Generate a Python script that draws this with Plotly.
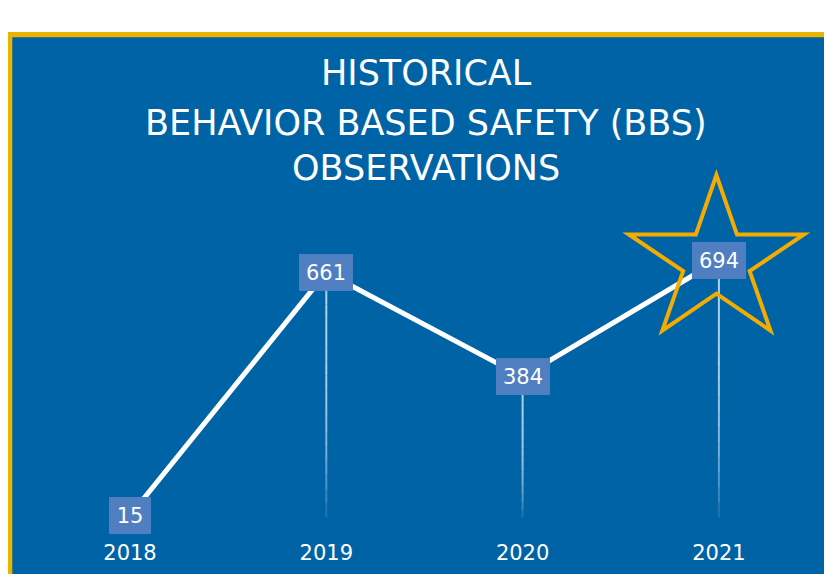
import math
import plotly.graph_objects as go

# ---- data ----
years = [2018, 2019, 2020, 2021]
year_labels = ["2018", "2019", "2020", "2021"]
observations = [15, 661, 384, 694]
title_lines = ["HISTORICAL", "BEHAVIOR BASED SAFETY (BBS)", "OBSERVATIONS"]

# ---- style ----
W, H = 832, 574
MB = 44
PLOT_H = H - MB
OFF = 8  # page body margin offset
BLUE = "#0063A6"
BOX = "#4F7EC1"
GOLD = "#E9B500"
STAR = "#F4AC00"
FONT = "DejaVu Sans"

x_range = [2017.3785, 2021.6169]
y_range = [-44.7, 1363.7]


def py(px):
    """screen pixel (from top) -> paper y"""
    return (PLOT_H - (px - OFF)) / PLOT_H


def pxx(px):
    return (px - OFF) / W


fig = go.Figure()

# drop lines (fading)
unit = PLOT_H / (y_range[1] - y_range[0])
for yr, v in zip(years, observations):
    if v < 100:
        continue
    top = v - 18 / unit
    bot = 15 - 2 / unit
    n = 16
    for i in range(n):
        a = top + (bot - top) * i / n
        b = top + (bot - top) * (i + 1) / n
        op = 0.9 * (1 - (i / n) ** 3)
        fig.add_trace(go.Scatter(x=[yr, yr], y=[a, b], mode="lines",
                                 line=dict(color=f"rgba(195,218,242,{op:.3f})", width=2),
                                 hoverinfo="skip", showlegend=False))

# main line
fig.add_trace(go.Scatter(x=years, y=observations, mode="lines",
                         line=dict(color="white", width=5),
                         hoverinfo="skip", showlegend=False))

# value boxes
for yr, v in zip(years, observations):
    w = 30 if len(str(v)) < 3 else 42
    fig.add_annotation(x=yr, y=v, text=str(v), showarrow=False,
                       bgcolor=BOX, borderpad=5, borderwidth=1, bordercolor=BOX,
                       width=w, height=25,
                       font=dict(family=FONT, size=21, color="white"))

# title
for line, cy in zip(title_lines, [72.5, 122.5, 167.5]):
    fig.add_annotation(x=pxx(426), y=py(cy), xref="paper", yref="paper",
                       text=line, showarrow=False, xanchor="center", yanchor="middle",
                       font=dict(family=FONT, size=35, color="white"))

# star around the last point
Rx, Ry, rr = 92, 86, 0.38
pts = []
for k in range(10):
    ang = math.pi / 2 + k * math.pi / 5
    r = 1 if k % 2 == 0 else rr
    pts.append((Rx * r * math.cos(ang) - 2.5, Ry * r * math.sin(ang) - 1))
path = "M " + " L ".join(f"{x:.2f},{y:.2f}" for x, y in pts) + " Z"

shapes = [
    dict(type="rect", xref="paper", yref="paper", x0=pxx(7), x1=pxx(W + 20),
         y0=py(H + 20), y1=py(32), fillcolor=GOLD, line=dict(width=0), layer="below"),
    dict(type="rect", xref="paper", yref="paper", x0=pxx(12.3), x1=pxx(W + 20),
         y0=py(H + 20), y1=py(37.3), fillcolor=BLUE, line=dict(width=0), layer="below"),
    dict(type="path", xref="x", yref="y", xsizemode="pixel", ysizemode="pixel",
         xanchor=years[-1], yanchor=observations[-1], path=path,
         line=dict(color=STAR, width=4), fillcolor="rgba(0,0,0,0)", layer="above"),
]

fig.update_layout(
    width=W, height=H,
    margin=dict(l=0, r=0, t=0, b=MB, autoexpand=False),
    paper_bgcolor="white", plot_bgcolor="rgba(0,0,0,0)",
    shapes=shapes,
    showlegend=False,
    xaxis=dict(range=x_range, tickvals=years, ticktext=year_labels,
               showgrid=False, zeroline=False, showline=False, ticks="",
               tickfont=dict(family=FONT, size=21, color="white"), fixedrange=True),
    yaxis=dict(range=y_range, visible=False, showgrid=False, zeroline=False,
               fixedrange=True),
)

fig.write_html("out.html")
